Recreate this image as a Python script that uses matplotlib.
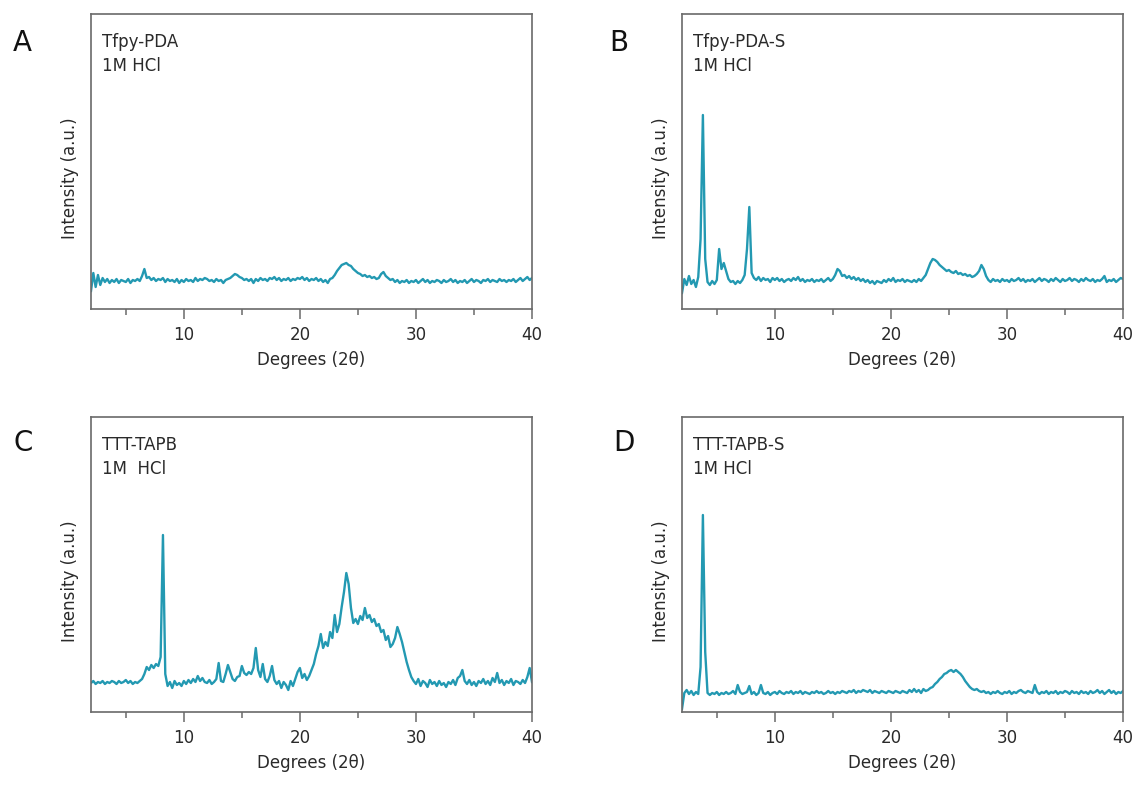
import numpy as np
import matplotlib
matplotlib.use("Agg")
import matplotlib.pyplot as plt
from matplotlib.ticker import MultipleLocator

# XRD scans, 0.2 degree step from 2 to 40 (2 theta)
two_theta = np.round(np.arange(2.0, 40.01, 0.2), 1)

# Intensities (a.u.)
tfpy_pda = [
    18, 36, 22, 34, 24, 31, 27, 30, 26, 29,
    27, 30, 26, 29, 28, 27, 30, 26, 29, 28,
    30, 28, 33, 40, 31, 32, 29, 31, 28, 30,
    29, 31, 27, 30, 28, 29, 27, 30, 26, 29,
    27, 30, 28, 29, 27, 31, 28, 30, 29, 31,
    30, 28, 29, 27, 30, 28, 29, 26, 29, 30,
    31, 33, 35, 34, 32, 31, 29, 30, 28, 30,
    26, 30, 28, 31, 29, 30, 28, 31, 30, 32,
    29, 31, 28, 30, 29, 31, 28, 30, 29, 31,
    30, 32, 29, 31, 28, 30, 29, 31, 28, 30,
    27, 29, 26, 30, 31, 34, 38, 41, 44, 45,
    46, 44, 43, 40, 38, 36, 35, 33, 34, 32,
    33, 31, 32, 30, 31, 35, 37, 33, 31, 29,
    30, 27, 29, 26, 28, 27, 29, 26, 28, 27,
    29, 26, 28, 30, 27, 29, 26, 28, 27, 29,
    28, 26, 29, 27, 28, 30, 27, 29, 26, 28,
    27, 29, 26, 28, 30, 27, 29, 28, 26, 29,
    28, 30, 27, 29, 28, 27, 30, 28, 29, 27,
    29, 28, 30, 27, 29, 31, 28, 30, 32, 29,
    31,
]

tfpy_pda_s = [
    16, 30, 24, 33, 25, 29, 22, 32, 70, 194,
    50, 27, 24, 28, 25, 29, 60, 40, 46, 38,
    30, 27, 28, 25, 28, 26, 29, 34, 60, 102,
    36, 31, 29, 32, 28, 31, 29, 30, 27, 31,
    29, 31, 28, 30, 27, 29, 30, 28, 31, 29,
    32, 28, 30, 27, 29, 28, 30, 27, 29, 28,
    30, 27, 29, 31, 28, 30, 34, 40, 38, 33,
    34, 31, 33, 30, 32, 29, 31, 28, 30, 27,
    29, 26, 28, 25, 28, 27, 26, 29, 27, 30,
    28, 31, 27, 29, 28, 30, 27, 29, 28, 27,
    29, 27, 30, 28, 31, 34, 40, 46, 50, 49,
    47, 44, 42, 40, 38, 39, 37, 36, 38, 35,
    36, 34, 35, 33, 34, 32, 33, 35, 38, 44,
    40, 33, 29, 27, 30, 28, 29, 27, 30, 28,
    29, 27, 30, 28, 29, 31, 28, 30, 27, 29,
    28, 30, 27, 29, 31, 28, 30, 29, 27, 30,
    28, 31, 29, 27, 30, 28, 29, 31, 28, 30,
    29, 27, 30, 28, 31, 29, 28, 30, 27, 29,
    28, 30, 33, 27, 29, 28, 30, 27, 29, 31,
    30,
]

ttt_tapb = [
    29, 31, 28, 30, 29, 31, 28, 30, 29, 31,
    30, 28, 31, 29, 30, 32, 29, 31, 28, 30,
    29, 31, 33, 38, 45, 42, 47, 44, 48, 46,
    55, 177, 38, 26, 30, 24, 31, 27, 29, 26,
    31, 28, 32, 29, 33, 30, 36, 31, 34, 30,
    29, 32, 28, 30, 33, 49, 31, 30, 38, 47,
    40, 33, 31, 35, 36, 46, 39, 37, 40, 38,
    44, 64, 42, 35, 48, 33, 30, 36, 46, 32,
    28, 31, 24, 30, 27, 22, 31, 26, 33, 40,
    44, 34, 38, 32, 36, 42, 48, 58, 66, 78,
    64, 70, 66, 80, 74, 97, 80, 88, 105, 120,
    139, 128, 104, 89, 93, 88, 96, 92, 104, 94,
    97, 90, 93, 86, 88, 80, 82, 72, 76, 65,
    68, 74, 85, 78, 70, 60, 50, 42, 35, 31,
    28, 33, 26, 31, 29, 25, 32, 28, 30, 26,
    31, 27, 29, 25, 30, 28, 32, 27, 34, 36,
    42, 31, 28, 32, 27, 30, 26, 31, 29, 33,
    28, 31, 27, 34, 30, 39, 29, 32, 27, 31,
    29, 33, 27, 31, 30, 28, 32, 29, 35, 44,
    30,
]

ttt_tapb_s = [
    3, 19, 22, 18, 21, 17, 20, 18, 45, 197,
    60, 19, 17, 19, 18, 20, 17, 19, 18, 20,
    18, 19, 21, 18, 27, 20, 18, 19, 20, 26,
    18, 20, 17, 19, 27, 19, 18, 20, 17, 19,
    20, 18, 21, 19, 18, 20, 19, 21, 18, 20,
    19, 21, 18, 20, 19, 18, 20, 19, 21, 19,
    20, 18, 19, 21, 19, 20, 18, 20, 19, 21,
    20, 19, 21, 20, 22, 19, 21, 20, 22, 21,
    20, 22, 19, 21, 20, 19, 21, 20, 19, 21,
    20, 19, 21, 20, 19, 21, 20, 19, 22, 20,
    23, 20, 22, 19, 23, 21, 22, 24, 25, 28,
    30, 33, 35, 38, 39, 41, 42, 40, 42, 40,
    38, 35, 31, 28, 25, 23, 22, 23, 21, 20,
    21, 19, 20, 18, 20, 19, 21, 19, 18, 20,
    19, 21, 18, 20, 19, 21, 22, 20, 19, 21,
    20, 19, 27, 20, 18, 20, 19, 21, 18, 20,
    19, 21, 18, 20, 19, 21, 20, 18, 21, 19,
    20, 18, 21, 19, 20, 18, 21, 19, 20, 22,
    19, 21, 18, 20, 22, 19, 21, 18, 20, 19,
    21,
]

panel_letters = ["A", "B", "C", "D"]
sample_names = ["Tfpy-PDA", "Tfpy-PDA-S", "TTT-TAPB", "TTT-TAPB-S"]
conditions = ["1M HCl", "1M HCl", "1M  HCl", "1M HCl"]
x_ticks = [10, 20, 30, 40]

W, H = 1138, 787
LINE_COLOR = "#2399b2"
SPINE_COLOR = "#6a6a6a"
TEXT_COLOR = "#2a2a2a"

fig = plt.figure(figsize=(W / 100, H / 100), dpi=100)

# axes boxes in pixels: left, top, right, bottom
boxes = [(91, 14, 532, 309), (682, 14, 1123, 309),
         (91, 417, 532, 712), (682, 417, 1123, 712)]
letter_pos = [(13, 43), (609, 43), (13, 443), (613, 443)]
series = [tfpy_pda, tfpy_pda_s, ttt_tapb, ttt_tapb_s]

for i, (l, t, r, b) in enumerate(boxes):
    ax = fig.add_axes([l / W, 1 - b / H, (r - l) / W, (b - t) / H])
    ax.plot(two_theta, series[i], color=LINE_COLOR, lw=1.7)
    ax.set_xlim(2, 40)
    ax.set_ylim(0, 295)
    ax.set_yticks([])
    ax.set_xticks(x_ticks)
    ax.xaxis.set_minor_locator(MultipleLocator(5))
    ax.tick_params(axis="x", which="major", direction="out", length=7,
                   width=1.1, color=SPINE_COLOR, labelsize=12, pad=5,
                   labelcolor=TEXT_COLOR)
    ax.tick_params(axis="x", which="minor", direction="out", length=4,
                   width=1.1, color=SPINE_COLOR)
    for sp in ax.spines.values():
        sp.set_color(SPINE_COLOR)
        sp.set_linewidth(1.2)
    ax.set_xlabel("Degrees (2θ)", fontsize=12, color=TEXT_COLOR, labelpad=5)
    ax.text(-0.047, 0.445, "Intensity (a.u.)", transform=ax.transAxes,
            rotation=90, ha="center", va="center", fontsize=12,
            color=TEXT_COLOR)
    ax.text(0.025, 0.905, sample_names[i], transform=ax.transAxes,
            ha="left", va="center", fontsize=12, color=TEXT_COLOR)
    ax.text(0.025, 0.825, conditions[i], transform=ax.transAxes,
            ha="left", va="center", fontsize=12, color=TEXT_COLOR)

    lx, ly = letter_pos[i]
    fig.text(lx / W, 1 - ly / H, panel_letters[i], ha="left", va="center",
             fontsize=20, color="#111111")

fig.savefig("out.png", dpi=100)
